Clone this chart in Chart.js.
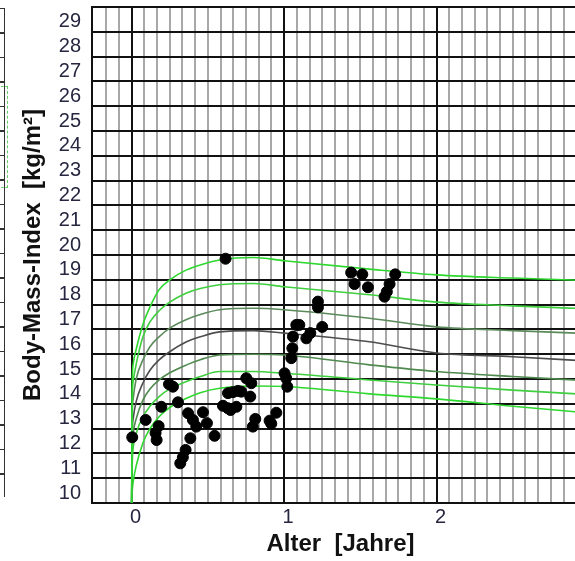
<!DOCTYPE html>
<html>
<head>
<meta charset="utf-8">
<style>
  body { margin: 0; overflow: hidden; background: #fff; }
  #wrap { position: relative; width: 600px; height: 561px; }
  #edge {
    position: absolute; left: 0; top: 8px; width: 4px; height: 489px;
    border-right: 1px solid #333;
    background: repeating-linear-gradient(to bottom, #333 0, #333 1px, transparent 1px, transparent 24.5px);
  }
  #edgebox {
    position: absolute; left: 1px; top: 86px; width: 6px; height: 100px;
    border: 1px dashed #6c6; border-left: none;
  }
</style>
</head>
<body>
<div id="wrap">
  <canvas id="bmiChart" width="600" height="561"></canvas>
  <div id="edge"></div>
  <div id="edgebox"></div>
</div>
<script src="https://cdn.jsdelivr.net/npm/chart.js"></script>
<script>
// reference curves (ages in years)
const curveAges = [0, 0.004, 0.01, 0.03, 0.074, 0.12, 0.18, 0.25, 0.36, 0.45, 0.577, 0.8, 1, 1.56, 2, 2.5, 3];
const curve1 = [10, 14.8, 15.6, 16.2, 17.2, 17.9, 18.6, 19.0, 19.4, 19.6, 19.8, 19.9, 19.77, 19.43, 19.2, 19.07, 18.97];
const curve2 = [10, 14.2, 14.9, 15.6, 16.7, 17.3, 17.75, 18.1, 18.47, 18.65, 18.8, 18.85, 18.72, 18.4, 18.1, 17.95, 17.83];
const curve3 = [10, 13.5, 14.2, 15.0, 15.77, 16.3, 16.7, 17.05, 17.4, 17.6, 17.79, 17.85, 17.79, 17.45, 17.1, 16.95, 16.83];
const curve4 = [10, 12.8, 13.4, 14.1, 14.84, 15.35, 15.77, 16.1, 16.5, 16.7, 16.9, 16.95, 16.85, 16.5, 16.05, 15.9, 15.72];
const curve5 = [10, 12.2, 12.8, 13.4, 14.15, 14.6, 14.96, 15.25, 15.57, 15.78, 15.97, 16.0, 15.97, 15.57, 15.3, 15.1, 14.93];
const curve6 = [10, 11.6, 12.2, 12.8, 13.48, 13.9, 14.29, 14.6, 14.9, 15.1, 15.3, 15.3, 15.23, 14.96, 14.76, 14.55, 14.37];
const curve7 = [10, 10.5, 10.85, 11.5, 12.42, 13.0, 13.48, 13.85, 14.22, 14.45, 14.63, 14.72, 14.7, 14.4, 14.2, 13.9, 13.63];
const curveColors = ['#2ed82e', '#3fcf3f', '#5b8a5b', '#4d4d4d', '#4f8a4f', '#3fcf3f', '#2ed82e'];

// measured points
const dotAge = [0.004, 0.092, 0.157, 0.164, 0.177, 0.195, 0.245, 0.271, 0.304, 0.370,
  0.402, 0.424, 0.468, 0.494, 0.544, 0.385, 0.354, 0.336, 0.319, 0.616,
  0.632, 0.664, 0.697, 0.719, 0.752, 0.785, 0.778, 0.599, 0.632, 0.649,
  0.687, 0.811, 0.795, 0.905, 0.916, 0.949, 1.003, 1.014, 1.021, 1.047,
  1.054, 1.058, 1.080, 1.100, 1.146, 1.172, 1.250, 1.222, 1.222, 1.440,
  1.513, 1.462, 1.550, 1.729, 1.692, 1.674, 1.659];
const dotBmi = [12.65, 13.35, 12.82, 12.54, 13.10, 13.88, 14.79, 14.69, 14.06, 13.62,
  13.35, 13.08, 13.66, 13.22, 12.71, 12.61, 12.14, 11.84, 11.60, 19.85,
  14.43, 14.47, 14.52, 14.49, 15.03, 14.83, 14.29, 13.92, 13.82, 13.75,
  13.88, 13.39, 13.08, 13.32, 13.20, 13.64, 15.23, 15.03, 14.69, 15.84,
  16.24, 16.71, 17.18, 17.18, 16.64, 16.85, 17.10, 18.12, 17.89, 19.29,
  19.22, 18.83, 18.70, 19.22, 18.83, 18.52, 18.32];

const curves = [curve1, curve2, curve3, curve4, curve5, curve6, curve7];
const isWhole = v => Math.abs(v - Math.round(v)) < 1e-6;
const tickColor = '#262640';

const datasets = [{
  label: 'Messwerte',
  data: dotAge.map((a, i) => ({x: a, y: dotBmi[i]})),
  backgroundColor: '#000',
  borderColor: '#000',
  pointRadius: 5.5,
  order: 0
}];
curves.forEach((c, k) => {
  datasets.push({
    label: 'Kurve ' + (k + 1),
    data: curveAges.map((a, i) => ({x: a, y: c[i]})),
    showLine: true,
    borderColor: curveColors[k],
    borderWidth: 1.6,
    pointRadius: 0,
    cubicInterpolationMode: 'monotone',
    order: 1
  });
});

new Chart(document.getElementById('bmiChart'), {
  type: 'scatter',
  data: { datasets: datasets },
  options: {
    responsive: false,
    animation: false,
    layout: { padding: { left: 0, top: 7, right: 11, bottom: 0 } },
    plugins: { legend: { display: false }, tooltip: { enabled: false } },
    scales: {
      x: {
        type: 'linear',
        min: -0.26,
        max: 3,
        afterFit: s => { s.height = 58; s.paddingLeft = 0; s.paddingRight = 0; },
        border: { display: true, color: '#111', width: 2 },
        grid: {
          drawTicks: false,
          lineWidth: 2,
          color: ctx => isWhole(ctx.tick.value) ? '#111' : '#a8a8a8'
        },
        ticks: {
          stepSize: 1 / 12,
          autoSkip: false,
          maxRotation: 0,
          padding: 2,
          labelOffset: 4,
          color: tickColor,
          font: { family: 'Liberation Sans, Arial, sans-serif', size: 20 },
          callback: v => isWhole(v) ? String(Math.round(v)) : ''
        },
        title: {
          display: true,
          text: 'Alter  [Jahre]',
          color: '#111',
          padding: { top: 0, bottom: 2 },
          font: { family: 'Liberation Sans, Arial, sans-serif', size: 24, weight: 'bold' }
        }
      },
      y: {
        min: 10,
        max: 30,
        afterFit: s => { s.width = 92; s.paddingTop = 0; s.paddingBottom = 0; },
        border: { display: true, color: '#111', width: 2 },
        grid: { drawTicks: false, lineWidth: 2, color: '#111' },
        ticks: {
          stepSize: 1,
          autoSkip: false,
          padding: 11,
          labelOffset: -10,
          color: tickColor,
          font: { family: 'Liberation Sans, Arial, sans-serif', size: 20 },
          callback: v => v >= 30 ? '' : String(v)
        },
        title: {
          display: true,
          text: 'Body-Mass-Index  [kg/m²]',
          color: '#111',
          padding: { top: 19, bottom: 0 },
          font: { family: 'Liberation Sans, Arial, sans-serif', size: 24, weight: 'bold' }
        }
      }
    }
  }
});
</script>
</body>
</html>
